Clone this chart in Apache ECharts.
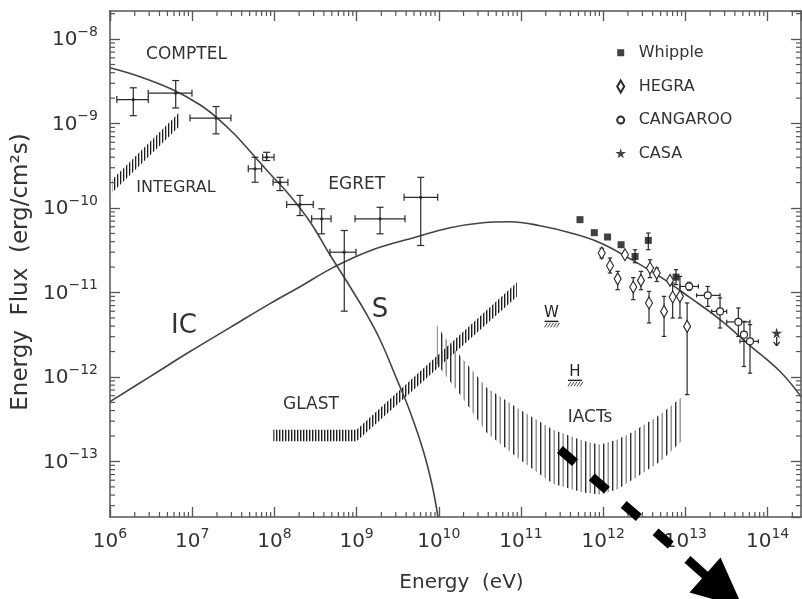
<!DOCTYPE html>
<html>
<head>
<meta charset="utf-8">
<script src="https://cdn.jsdelivr.net/npm/echarts@6/dist/echarts.min.js"></script>
<style>
  html, body { margin: 0; padding: 0; background: #fff; }
  #chart { width: 802px; height: 599px; }
</style>
</head>
<body>
<div id="chart"></div>
<script>
// ---- axis ranges: photon energy (eV) and energy flux (erg/cm^2/s) ----
const xRange = [1e6, 2.55e14];
const yRange = [2.2e-14, 2.15e-8];

// ---- COMPTEL / EGRET measurements with error-bar limits ----
const gevE   = [1.92e6, 6.30e6, 1.95e7, 5.81e7, 8.05e7, 1.17e8, 2.05e8, 3.76e8, 7.08e8, 1.93e9, 6.03e9];
const gevF   = [1.92e-9, 2.29e-9, 1.16e-9, 2.91e-10, 3.99e-10, 2.02e-10, 1.10e-10, 7.45e-11, 3.00e-11, 7.45e-11, 1.34e-10];
const gevElo = [1.21e6, 2.92e6, 9.40e6, 4.81e7, 7.21e7, 9.62e7, 1.41e8, 2.84e8, 4.74e8, 9.57e8, 3.78e9];
const gevEhi = [2.92e6, 9.93e6, 2.96e7, 7.00e7, 9.89e7, 1.46e8, 2.97e8, 4.89e8, 9.84e8, 3.88e9, 9.70e9];
const gevFlo = [1.24e-9, 1.53e-9, 7.55e-10, 2.02e-10, 3.65e-10, 1.61e-10, 8.15e-11, 4.95e-11, 6.01e-12, 4.95e-11, 3.60e-11];
const gevFhi = [2.65e-9, 3.23e-9, 1.59e-9, 3.99e-10, 4.57e-10, 2.31e-10, 1.41e-10, 9.79e-11, 5.42e-11, 1.02e-10, 2.31e-10];

// ---- TeV measurements ----
const whippleE   = [5.22e11, 7.80e11, 1.13e12, 1.65e12, 2.44e12, 3.54e12, 7.69e12];
const whippleF   = [7.28e-11, 5.11e-11, 4.54e-11, 3.68e-11, 2.67e-11, 4.14e-11, 1.52e-11];
const whippleFlo = [null, null, null, null, 2.25e-11, 3.21e-11, 1.24e-11];
const whippleFhi = [null, null, null, null, 3.21e-11, 5.06e-11, 1.86e-11];

const hegraE   = [9.59e11, 1.21e12, 1.50e12, 1.84e12, 2.32e12, 2.88e12, 3.71e12, 4.48e12, 3.61e12, 5.50e12, 6.50e12, 7.00e12, 8.59e12, 1.05e13];
const hegraF   = [2.93e-11, 2.07e-11, 1.45e-11, 2.80e-11, 1.16e-11, 1.39e-11, 1.95e-11, 1.70e-11, 7.52e-12, 5.97e-12, 1.39e-11, 8.85e-12, 9.00e-12, 3.97e-12];
const hegraFlo = [2.56e-11, 1.70e-11, 1.08e-11, null, 8.22e-12, 1.08e-11, 1.50e-11, 1.35e-11, 4.36e-12, 3.02e-12, null, 4.99e-12, 4.99e-12, 6.18e-13];
const hegraFhi = [3.34e-11, 2.56e-11, 1.78e-11, null, 1.50e-11, 1.78e-11, 2.44e-11, 1.95e-11, 1.03e-11, 9.00e-12, null, 1.29e-11, 1.55e-11, 7.52e-12];

const cangE   = [1.11e13, 1.87e13, 2.64e13, 4.41e13, 5.16e13, 6.11e13];
const cangF   = [1.18e-11, 9.25e-12, 5.97e-12, 4.48e-12, 3.17e-12, 2.64e-12];
const cangElo = [8.59e12, 1.37e13, 2.09e13, 3.18e13, null, 4.61e13];
const cangEhi = [1.44e13, 2.64e13, 3.18e13, 6.11e13, null, 7.71e13];
const cangFlo = [1.06e-11, 6.85e-12, 3.80e-12, 3.02e-12, 1.33e-12, 1.11e-12];
const cangFhi = [1.32e-11, 1.18e-11, 8.61e-12, 6.56e-12, 4.55e-12, 4.16e-12];

const casaE = [1.29e14];
const casaF = [3.32e-12];   // upper limit

// ---- instrument sensitivity marks (W, H) ----
const sensName = ['W', 'H'];
const sensE = [2.35e11, 4.54e11];
const sensF = [4.55e-12, 9.12e-13];

// ---- model curves: synchrotron (S) and inverse Compton (IC) ----
const synE = [1.00e6, 2.32e6, 5.83e6, 1.24e7, 2.00e7, 3.32e7, 5.50e7, 8.84e7, 1.55e8, 2.71e8, 4.74e8, 8.32e8, 1.27e9, 1.93e9, 3.10e9, 4.47e9, 6.43e9, 8.27e9, 9.77e9];
const synF = [4.57e-9, 3.58e-9, 2.51e-9, 1.67e-9, 1.17e-9, 7.37e-10, 4.28e-10, 2.55e-10, 1.40e-10, 6.89e-11, 2.80e-11, 1.17e-11, 5.92e-12, 2.76e-12, 9.29e-13, 3.88e-13, 1.37e-13, 5.30e-14, 2.21e-14];
const icE = [1.00e6, 3.07e6, 9.40e6, 2.88e7, 8.84e7, 2.05e8, 5.16e8, 1.46e9, 5.43e9, 1.37e10, 3.45e10, 7.35e10, 1.70e11, 3.94e11, 9.14e11, 2.12e12, 4.91e12, 1.14e13, 2.64e13, 6.11e13, 1.42e14, 2.55e14];
const icF = [5.11e-13, 1.01e-12, 2.00e-12, 3.84e-12, 7.38e-12, 1.17e-11, 1.97e-11, 3.13e-11, 4.57e-11, 5.85e-11, 6.70e-11, 6.89e-11, 6.18e-11, 5.11e-11, 3.89e-11, 2.51e-11, 1.54e-11, 8.69e-12, 4.78e-12, 2.35e-12, 1.16e-12, 5.85e-13];

// ---- sensitivity bands (lower / upper edges) ----
const integralE  = [1.06e6, 7.11e6];
const integralLo = [1.52e-10, 9.42e-10];
const integralHi = [2.16e-10, 1.38e-9];

const glastE  = [9.7e7, 1.0e9, 8.9e10];
const glastLo = [1.73e-13, 1.73e-13, 8.9e-12];
const glastHi = [2.38e-13, 2.38e-13, 1.31e-11];

const iactE  = [9.42e9, 1.19e10, 1.90e10, 3.83e10, 9.72e10, 2.45e11, 5.68e11, 9.14e11, 1.47e12, 2.31e12, 4.91e12, 8.83e12];
const iactHi = [4.16e-12, 2.92e-12, 1.69e-12, 7.46e-13, 4.09e-13, 2.38e-13, 1.76e-13, 1.58e-13, 1.81e-13, 2.25e-13, 3.58e-13, 5.69e-13];
const iactLo = [1.44e-12, 1.06e-12, 5.85e-13, 2.19e-13, 1.05e-13, 5.46e-14, 4.28e-14, 4.05e-14, 4.64e-14, 6.10e-14, 9.95e-14, 1.71e-13];

// ---- styling ----
const FONT = 'DejaVu Sans';
const INK = '#2a2a2a';
const TEXT = '#333';
const AXIS = '#555';

const chart = echarts.init(document.getElementById('chart'), null, { renderer: 'canvas' });

// vertical hatch patterns for the bands
function stripes(period, bars) {
  const cv = document.createElement('canvas');
  cv.width = period; cv.height = 4;
  const ctx = cv.getContext('2d');
  bars.forEach(([x, w, c]) => { ctx.fillStyle = c; ctx.fillRect(x, 0, w, 4); });
  return { image: cv, repeat: 'repeat' };
}
const integralFill = stripes(3, [[0, 1.3, '#1e1e1e']]);
const glastFill = stripes(3, [[0, 1.4, '#1e1e1e']]);
const iactFill = stripes(9, [[0, 1.4, '#2e2e2e'], [4.5, 1.4, '#8c8c8c']]);

// minor tick positions (2..9 x 10^k) inside the axis ranges
const minorX = [];
for (let k = 6; k <= 14; k++) for (let m = 2; m <= 9; m++) {
  const v = m * Math.pow(10, k);
  if (v > xRange[0] && v < xRange[1]) minorX.push(v);
}
const minorY = [];
for (let k = -15; k <= -8; k++) for (let m = 2; m <= 9; m++) {
  const v = m * Math.pow(10, k);
  if (v > yRange[0] && v < yRange[1]) minorY.push(v);
}

function seg(x1, y1, x2, y2, w, c) {
  return { type: 'line', shape: { x1, y1, x2, y2 }, style: { stroke: c || INK, lineWidth: w || 1.2 } };
}

function supLabel(v) {
  const p = Math.round(Math.log10(v));
  return '{b|10}{s|' + (p < 0 ? '\u2212' + (-p) : String(p)) + '}';
}
const labelRich = {
  b: { fontFamily: FONT, fontSize: 20, color: TEXT, lineHeight: 22, verticalAlign: 'bottom' },
  s: { fontFamily: FONT, fontSize: 14, color: TEXT, lineHeight: 16, verticalAlign: 'bottom', padding: [0, 0, 11, 0] }
};
const axisLine = { show: true, lineStyle: { color: AXIS, width: 1.5 } };
const axisTick = { show: true, inside: true, length: 10, lineStyle: { color: AXIS, width: 1.3 } };

// hatched band drawn as one polygon between its lower and upper edges
function bandSeries(E, lo, hi, fill) {
  return {
    type: 'custom', silent: true, z: 1, clip: true,
    data: [[E[0], lo[0]]],
    renderItem: function (params, api) {
      const pts = [];
      for (let i = 0; i < E.length; i++) pts.push(api.coord([E[i], hi[i]]));
      for (let i = E.length - 1; i >= 0; i--) pts.push(api.coord([E[i], lo[i]]));
      return { type: 'polygon', shape: { points: pts }, style: { fill: fill, stroke: null } };
    }
  };
}

// error bars: row = [E, F, Elo, Ehi, Flo, Fhi]
function errRows(E, F, Elo, Ehi, Flo, Fhi) {
  return E.map((e, i) => [e, F[i],
    Elo && Elo[i] != null ? Elo[i] : '-', Ehi && Ehi[i] != null ? Ehi[i] : '-',
    Flo && Flo[i] != null ? Flo[i] : '-', Fhi && Fhi[i] != null ? Fhi[i] : '-']);
}
function errorSeries(rows, cap, dot) {
  return {
    type: 'custom', silent: true, z: 3,
    encode: { x: 0, y: 1 },
    data: rows,
    renderItem: function (params, api) {
      const e = api.value(0), f = api.value(1);
      const c = api.coord([e, f]);
      const kids = [];
      const eLo = api.value(2), eHi = api.value(3), fLo = api.value(4), fHi = api.value(5);
      if (isFinite(eLo) && isFinite(eHi)) {
        const a = api.coord([eLo, f])[0], b = api.coord([eHi, f])[0];
        kids.push(seg(a, c[1], b, c[1]));
        kids.push(seg(a, c[1] - cap, a, c[1] + cap));
        kids.push(seg(b, c[1] - cap, b, c[1] + cap));
      }
      if (isFinite(fLo) && isFinite(fHi)) {
        const a = api.coord([e, fLo])[1], b = api.coord([e, fHi])[1];
        kids.push(seg(c[0], a, c[0], b));
        kids.push(seg(c[0] - cap, a, c[0] + cap, a));
        kids.push(seg(c[0] - cap, b, c[0] + cap, b));
      }
      if (dot) kids.push({ type: 'circle', shape: { cx: c[0], cy: c[1], r: 1.6 }, style: { fill: INK } });
      return { type: 'group', children: kids };
    }
  };
}

const starPath = 'path://M50,0L61,35L98,35L68,57L79,91L50,70L21,91L32,57L2,35L39,35Z';

const option = {
  backgroundColor: '#fff',
  animation: false,
  grid: { left: 110, right: 1, top: 11, bottom: 82, containLabel: false, outerBoundsMode: 'none' },
  xAxis: [
    {
      type: 'log', logBase: 10, min: xRange[0], max: xRange[1], position: 'bottom',
      axisLine, axisTick, splitLine: { show: false },
      axisLabel: { formatter: supLabel, rich: labelRich, margin: 13, showMinLabel: true, showMaxLabel: false },
      name: 'Energy  (eV)', nameLocation: 'middle', nameGap: 56,
      nameTextStyle: { fontFamily: FONT, fontSize: 20, color: TEXT, padding: [0, 0, 0, 12] }
    },
    {
      type: 'log', logBase: 10, min: xRange[0], max: xRange[1], position: 'top',
      axisLine, axisTick, splitLine: { show: false }, axisLabel: { show: false }
    }
  ],
  yAxis: [
    {
      type: 'log', logBase: 10, min: yRange[0], max: yRange[1], position: 'left',
      axisLine, axisTick, splitLine: { show: false },
      axisLabel: { formatter: supLabel, rich: labelRich, margin: 12, showMinLabel: false, showMaxLabel: false },
      name: 'Energy  Flux  (erg/cm\u00b2s)', nameLocation: 'middle', nameGap: 74,
      nameTextStyle: { fontFamily: FONT, fontSize: 23, color: TEXT, padding: [0, 16, 0, 0] }
    },
    {
      type: 'log', logBase: 10, min: yRange[0], max: yRange[1], position: 'right',
      axisLine, axisTick, splitLine: { show: false }, axisLabel: { show: false }
    }
  ],
  legend: {
    orient: 'vertical', left: 608.7, top: 38.7,
    itemWidth: 26, itemHeight: 12, itemGap: 15.7, selectedMode: false,
    textStyle: { fontFamily: FONT, fontSize: 16, color: TEXT, lineHeight: 18 },
    data: [
      { name: 'Whipple', icon: 'path://M0,0M12,12M2.5,2.5L9.5,2.5L9.5,9.5L2.5,9.5Z' },
      { name: 'HEGRA', icon: 'path://M0,0M12,12M6,0L9.5,6L6,12L2.5,6Z' },
      { name: 'CANGAROO', icon: 'path://M0,0M12,12M2.5,6A3.5,3.5 0 1,0 9.5,6A3.5,3.5 0 1,0 2.5,6Z' },
      { name: 'CASA', icon: 'path://M0,0M12,12M6,0.5L7.2,4.3L11.3,4.3L8,6.7L9.2,10.5L6,8.2L2.8,10.5L4,6.7L0.7,4.3L4.8,4.3Z' }
    ]
  },
  series: [
    // minor ticks on bottom/top axes
    {
      type: 'custom', silent: true, z: 5, encode: { x: 0, y: 1 },
      data: minorX.map(v => [v, yRange[0]]),
      renderItem: function (params, api) {
        const v = api.value(0);
        const b = api.coord([v, yRange[0]]), t = api.coord([v, yRange[1]]);
        return { type: 'group', children: [seg(b[0], b[1], b[0], b[1] - 5, 1.2, AXIS), seg(t[0], t[1], t[0], t[1] + 5, 1.2, AXIS)] };
      }
    },
    // minor ticks on left/right axes
    {
      type: 'custom', silent: true, z: 5, encode: { x: 0, y: 1 },
      data: minorY.map(v => [xRange[0], v]),
      renderItem: function (params, api) {
        const v = api.value(1);
        const l = api.coord([xRange[0], v]), r = api.coord([xRange[1], v]);
        return { type: 'group', children: [seg(l[0], l[1], l[0] + 5, l[1], 1.2, AXIS), seg(r[0], r[1], r[0] - 5, r[1], 1.2, AXIS)] };
      }
    },
    bandSeries(integralE, integralLo, integralHi, integralFill),
    bandSeries(glastE, glastLo, glastHi, glastFill),
    bandSeries(iactE, iactLo, iactHi, iactFill),
    {
      name: 'S', type: 'line', z: 2, showSymbol: false, silent: true, smooth: 0.4,
      data: synE.map((e, i) => [e, synF[i]]),
      lineStyle: { color: '#444', width: 1.6 }
    },
    {
      name: 'IC', type: 'line', z: 2, showSymbol: false, silent: true, smooth: 0.4,
      data: icE.map((e, i) => [e, icF[i]]),
      lineStyle: { color: '#444', width: 1.6 }
    },
    errorSeries(errRows(gevE, gevF, gevElo, gevEhi, gevFlo, gevFhi), 3.5, true),
    errorSeries(errRows(whippleE, whippleF, null, null, whippleFlo, whippleFhi), 2.2, false),
    errorSeries(errRows(hegraE, hegraF, null, null, hegraFlo, hegraFhi), 2.2, false),
    errorSeries(errRows(cangE, cangF, cangElo, cangEhi, cangFlo, cangFhi), 2.2, false),
    {
      name: 'Whipple', type: 'scatter', z: 4, silent: true, symbol: 'rect', symbolSize: 7,
      data: whippleE.map((e, i) => [e, whippleF[i]]),
      itemStyle: { color: '#111' }
    },
    {
      name: 'HEGRA', type: 'scatter', z: 4, silent: true, symbol: 'diamond', symbolSize: [7, 12],
      data: hegraE.map((e, i) => [e, hegraF[i]]),
      itemStyle: { color: '#fff', borderColor: INK, borderWidth: 1.2, opacity: 1 }
    },
    {
      name: 'CANGAROO', type: 'scatter', z: 4, silent: true, symbol: 'circle', symbolSize: 7,
      data: cangE.map((e, i) => [e, cangF[i]]),
      itemStyle: { color: '#fff', borderColor: INK, borderWidth: 1.2, opacity: 1 }
    },
    {
      name: 'CASA', type: 'scatter', z: 4, silent: true, symbol: starPath, symbolSize: 11,
      data: casaE.map((e, i) => [e, casaF[i]]),
      itemStyle: { color: '#111' }
    },
    // CASA upper-limit arrow
    {
      type: 'custom', silent: true, z: 3, encode: { x: 0, y: 1 },
      data: casaE.map((e, i) => [e, casaF[i]]),
      renderItem: function (params, api) {
        const c = api.coord([api.value(0), api.value(1)]);
        return { type: 'group', children: [
          seg(c[0], c[1] + 4, c[0], c[1] + 13, 1.3),
          seg(c[0] - 3, c[1] + 9, c[0], c[1] + 13, 1.3),
          seg(c[0] + 3, c[1] + 9, c[0], c[1] + 13, 1.3)
        ] };
      }
    },
    // W / H sensitivity marks: letter over a hatched bar
    {
      type: 'custom', silent: true, z: 3, encode: { x: 0, y: 1 },
      data: sensE.map((e, i) => [e, sensF[i], sensName[i]]),
      renderItem: function (params, api) {
        const c = api.coord([api.value(0), api.value(1)]);
        const name = sensName[params.dataIndex];
        const kids = [
          { type: 'text', x: c[0], y: c[1] - 1, style: { text: name, font: '15px "DejaVu Sans"', fill: '#222', align: 'center', verticalAlign: 'bottom' } },
          seg(c[0] - 7, c[1], c[0] + 7, c[1], 1.4, '#222')
        ];
        for (let k = 0; k < 5; k++) {
          const x0 = c[0] - 7 + k * 3;
          kids.push(seg(x0, c[1] + 6, x0 + 3, c[1] + 1.5, 1, '#444'));
        }
        return { type: 'group', children: kids };
      }
    }
  ],
  graphic: [
    { type: 'text', x: 186.5, y: 55, style: { text: 'COMPTEL', font: '17px "DejaVu Sans"', fill: TEXT, align: 'center', verticalAlign: 'middle' } },
    { type: 'text', x: 176, y: 188, style: { text: 'INTEGRAL', font: '16px "DejaVu Sans"', fill: TEXT, align: 'center', verticalAlign: 'middle' } },
    { type: 'text', x: 356.7, y: 185, style: { text: 'EGRET', font: '17px "DejaVu Sans"', fill: TEXT, align: 'center', verticalAlign: 'middle' } },
    { type: 'text', x: 184, y: 326, style: { text: 'IC', font: '26px "DejaVu Sans"', fill: TEXT, align: 'center', verticalAlign: 'middle' } },
    { type: 'text', x: 380, y: 310, style: { text: 'S', font: '26px "DejaVu Sans"', fill: TEXT, align: 'center', verticalAlign: 'middle' } },
    { type: 'text', x: 311, y: 405, style: { text: 'GLAST', font: '17px "DejaVu Sans"', fill: TEXT, align: 'center', verticalAlign: 'middle' } },
    { type: 'text', x: 590, y: 418, style: { text: 'IACTs', font: '17px "DejaVu Sans"', fill: TEXT, align: 'center', verticalAlign: 'middle' } },
    // dashed pointer arrow
    { type: 'line', z: 100, shape: { x1: 559.9, y1: 449.5, x2: 670.7, y2: 545 }, style: { stroke: '#000', lineWidth: 9, lineDash: [20, 22.1], lineCap: 'butt' } },
    { type: 'line', z: 100, shape: { x1: 687.5, y1: 559.4, x2: 706, y2: 576 }, style: { stroke: '#000', lineWidth: 9 } },
    { type: 'polygon', z: 100, shape: { points: [[720.5, 557.5], [689.5, 592.5], [742.9, 607.6]] }, style: { fill: '#000' } }
  ]
};

chart.setOption(option);
</script>
</body>
</html>
